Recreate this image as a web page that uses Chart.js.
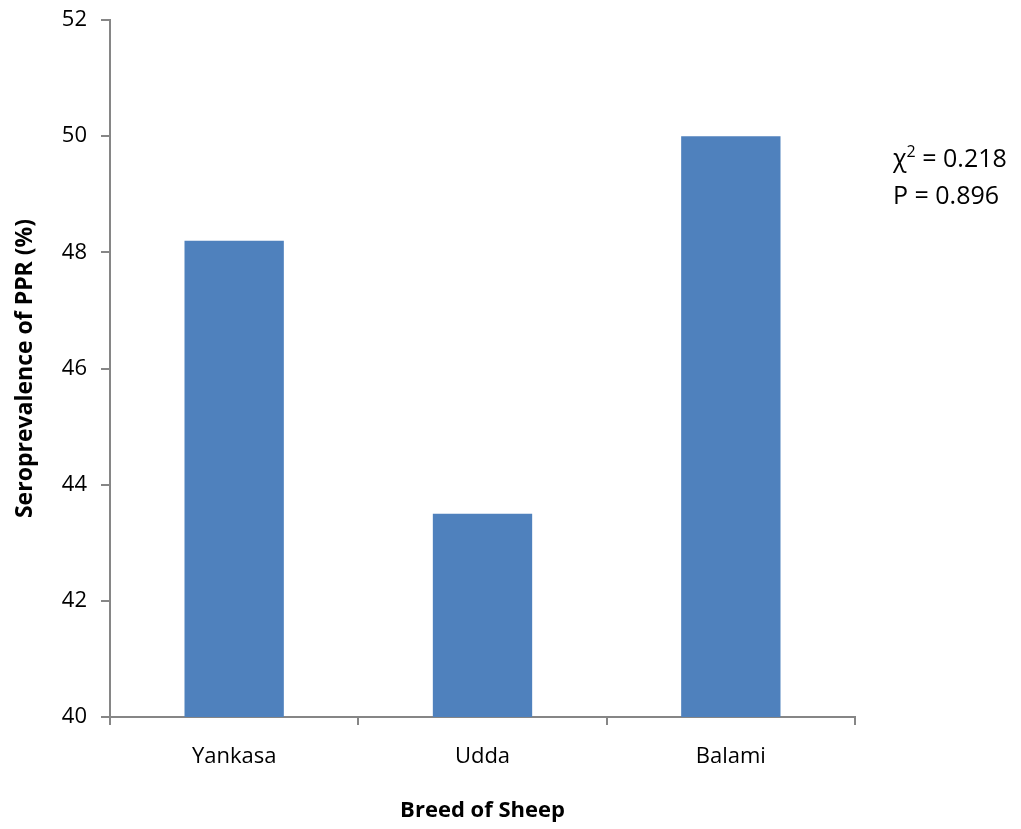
<!DOCTYPE html>
<html>
<head>
<meta charset="utf-8">
<script src="https://cdn.jsdelivr.net/npm/chart.js@4"></script>
<style>
  body { margin: 0; background: #fff; }
  #wrap { width: 1021px; height: 829px; }
</style>
</head>
<body>
<div id="wrap"><canvas id="breedChart" width="1021" height="829"></canvas></div>
<script>
const breeds = ['Yankasa', 'Udda', 'Balami'];
const seroprevalence = [48.2, 43.5, 50.0];
const statLines = ['= 0.218', 'P = 0.896'];

const axisGrey = '#868686';
const fontFamily = '"Open Sans", Lato, sans-serif';

// draws the chi-square / P note right of the plot
const statsNote = {
  id: 'statsNote',
  afterDraw(chart) {
    const ctx = chart.ctx;
    ctx.save();
    ctx.fillStyle = '#000';
    ctx.font = '25px ' + fontFamily;
    ctx.textBaseline = 'middle';
    ctx.textAlign = 'left';
    const x = 893;
    ctx.fillText('\u03C7', x, 160);
    const chiW = ctx.measureText('\u03C7').width;
    ctx.font = '16px ' + fontFamily;
    ctx.fillText('2', x + chiW, 152);
    const supW = ctx.measureText('2').width;
    ctx.font = '25px ' + fontFamily;
    ctx.fillText(' ' + statLines[0], x + chiW + supW, 160);
    ctx.fillText(statLines[1], x, 197);
    ctx.restore();
  }
};

const ctx = document.getElementById('breedChart').getContext('2d');
const breedChart = new Chart(ctx, {
  type: 'bar',
  data: {
    labels: breeds,
    datasets: [{
      label: 'Seroprevalence of PPR (%)',
      data: seroprevalence,
      backgroundColor: '#4F81BD',
      borderWidth: 0,
      barPercentage: 0.4,
      categoryPercentage: 1.0
    }]
  },
  options: {
    responsive: false,
    animation: false,
    layout: { padding: { top: 20, right: 166, left: 0, bottom: 0 } },
    plugins: {
      legend: { display: false },
      tooltip: { enabled: false }
    },
    scales: {
      x: {
        afterFit(scale) { scale.height = 112; scale.paddingLeft = 0; scale.paddingRight = 0; },
        grid: { drawOnChartArea: false, tickLength: 8, color: axisGrey, lineWidth: 2 },
        border: { color: axisGrey, width: 2 },
        ticks: { color: '#000', font: { family: fontFamily, size: 22 }, padding: 19 },
        title: {
          display: true,
          text: 'Breed of Sheep',
          color: '#000',
          font: { family: fontFamily, size: 22, weight: 'bold' },
          padding: { top: 0, bottom: 5 }
        }
      },
      y: {
        min: 40,
        max: 52,
        afterFit(scale) { scale.width = 110; scale.paddingTop = 0; scale.paddingBottom = 0; },
        grid: { drawOnChartArea: false, tickLength: 9, color: axisGrey, lineWidth: 2 },
        border: { color: axisGrey, width: 2 },
        ticks: { stepSize: 2, color: '#000', font: { family: fontFamily, size: 22 }, padding: 14 },
        title: {
          display: true,
          text: 'Seroprevalence of PPR (%)',
          color: '#000',
          font: { family: fontFamily, size: 23, weight: 'bold' },
          padding: { top: 12, bottom: 0 }
        }
      }
    }
  },
  plugins: [statsNote]
});
</script>
</body>
</html>
